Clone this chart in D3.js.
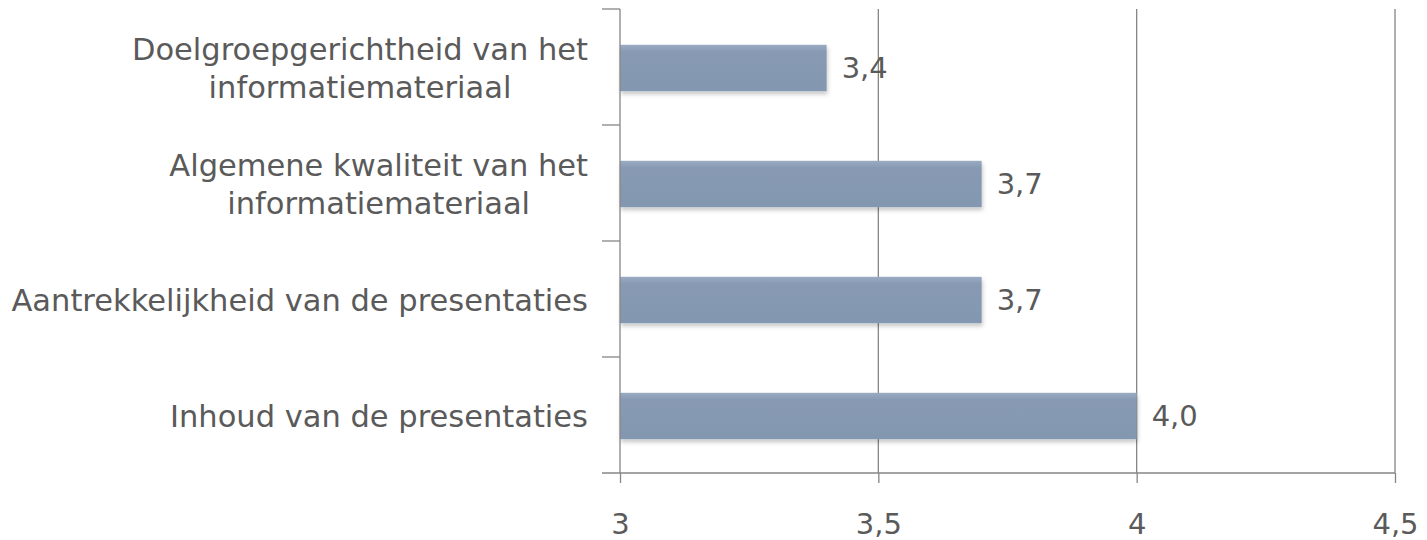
<!DOCTYPE html>
<html>
<head>
<meta charset="utf-8">
<script src="https://cdn.jsdelivr.net/npm/d3@7"></script>
<style>
  body { margin: 0; background: #fff; }
  text { font-family: "DejaVu Sans", sans-serif; fill: #5a5a5a; }
</style>
</head>
<body>
<div class="chart"></div>
<script>
// data, top to bottom as in the picture
var categories = [
  ["Doelgroepgerichtheid van het", "informatiemateriaal"],
  ["Algemene kwaliteit van het", "informatiemateriaal"],
  ["Aantrekkelijkheid van de presentaties"],
  ["Inhoud van de presentaties"]
];
var scores = [3.4, 3.7, 3.7, 4.0];
var tickValues = [3, 3.5, 4, 4.5];

var svgWidth = 1427;
var svgHeight = 540;

var margin = { top: 9, right: 32, bottom: 67, left: 620 };
var width = svgWidth - margin.left - margin.right;
var height = svgHeight - margin.top - margin.bottom;

var svg = d3.select(".chart")
  .append("svg")
  .attr("width", svgWidth)
  .attr("height", svgHeight);

var defs = svg.append("defs");
var grad = defs.append("linearGradient")
  .attr("id", "barGrad")
  .attr("x1", 0).attr("y1", 0).attr("x2", 0).attr("y2", 1);
grad.append("stop").attr("offset", "0%").attr("stop-color", "#9aabc3");
grad.append("stop").attr("offset", "15%").attr("stop-color", "#889ab3");
grad.append("stop").attr("offset", "100%").attr("stop-color", "#8397b0");

var shadow = defs.append("filter").attr("id", "shadow")
  .attr("x", "-5%").attr("y", "-20%").attr("width", "110%").attr("height", "150%");
shadow.append("feDropShadow")
  .attr("dx", 1).attr("dy", 3).attr("stdDeviation", 2)
  .attr("flood-color", "#000").attr("flood-opacity", 0.22);

var chartGroup = svg.append("g")
  .attr("transform", `translate(${margin.left}, ${margin.top})`);

var x = d3.scaleLinear()
  .domain([3, 4.5])
  .range([0, width]);

var y = d3.scaleBand()
  .domain(d3.range(categories.length))
  .range([0, height])
  .paddingInner(0.6)
  .paddingOuter(0.3);

// vertical gridlines
chartGroup.selectAll(".grid")
  .data(tickValues.slice(1))
  .enter()
  .append("line")
  .attr("x1", d => x(d)).attr("x2", d => x(d))
  .attr("y1", 0).attr("y2", height)
  .attr("stroke", "#868686")
  .attr("stroke-width", 1.3);

// bars
chartGroup.selectAll(".bar")
  .data(scores)
  .enter()
  .append("rect")
  .attr("x", x(3))
  .attr("y", (d, i) => y(i) + 1)
  .attr("width", d => x(d) - x(3))
  .attr("height", y.bandwidth())
  .attr("fill", "url(#barGrad)")
  .attr("filter", "url(#shadow)");

// value labels
chartGroup.selectAll(".val")
  .data(scores)
  .enter()
  .append("text")
  .attr("x", d => x(d) + 15)
  .attr("y", (d, i) => y(i) + 1 + y.bandwidth() / 2)
  .attr("dy", "0.36em")
  .attr("font-size", "29px")
  .text(d => d3.format(".1f")(d).replace(".", ","));

// x axis
var bottomAxis = d3.axisBottom(x)
  .tickValues(tickValues)
  .tickSize(10)
  .tickPadding(30)
  .tickFormat(d => String(d).replace(".", ","));

var xAxis = chartGroup.append("g")
  .attr("transform", `translate(0, ${height})`)
  .call(bottomAxis);
xAxis.select(".domain").remove();
xAxis.append("line")
  .attr("x1", -18).attr("x2", width)
  .attr("stroke", "#868686").attr("stroke-width", 1.3);
xAxis.selectAll(".tick line").attr("stroke", "#868686").attr("stroke-width", 1.3);
xAxis.selectAll(".tick text")
  .attr("font-size", "29px")
  .attr("font-family", "DejaVu Sans, sans-serif")
  .attr("fill", "#5a5a5a");

// y axis line + ticks on band boundaries
var yAxisGroup = chartGroup.append("g");
yAxisGroup.append("line")
  .attr("x1", 0).attr("x2", 0)
  .attr("y1", 0).attr("y2", height)
  .attr("stroke", "#868686").attr("stroke-width", 1.3);
yAxisGroup.selectAll(".ytick")
  .data(d3.range(categories.length))
  .enter()
  .append("line")
  .attr("x1", -18).attr("x2", 0)
  .attr("y1", d => y(d) - y.step() * y.paddingInner() / 2)
  .attr("y2", d => y(d) - y.step() * y.paddingInner() / 2)
  .attr("stroke", "#868686").attr("stroke-width", 1.3);

// category labels: lines centred on each other, block right-aligned
var lineHeight = 38;
var labelRight = -32;
chartGroup.selectAll(".cat")
  .data(categories)
  .enter()
  .append("text")
  .attr("text-anchor", "middle")
  .attr("font-size", "30.5px")
  .each(function(lines, i) {
    var t = d3.select(this);
    lines.forEach(function(line, j) {
      t.append("tspan")
        .attr("x", 0)
        .attr("y", (j - (lines.length - 1) / 2) * lineHeight)
        .attr("dy", "0.36em")
        .text(line);
    });
    var maxW = d3.max(t.selectAll("tspan").nodes(), n => n.getComputedTextLength());
    t.attr("transform", `translate(${labelRight - maxW / 2}, ${y(i) + 1 + y.bandwidth() / 2})`);
  });
</script>
</body>
</html>
